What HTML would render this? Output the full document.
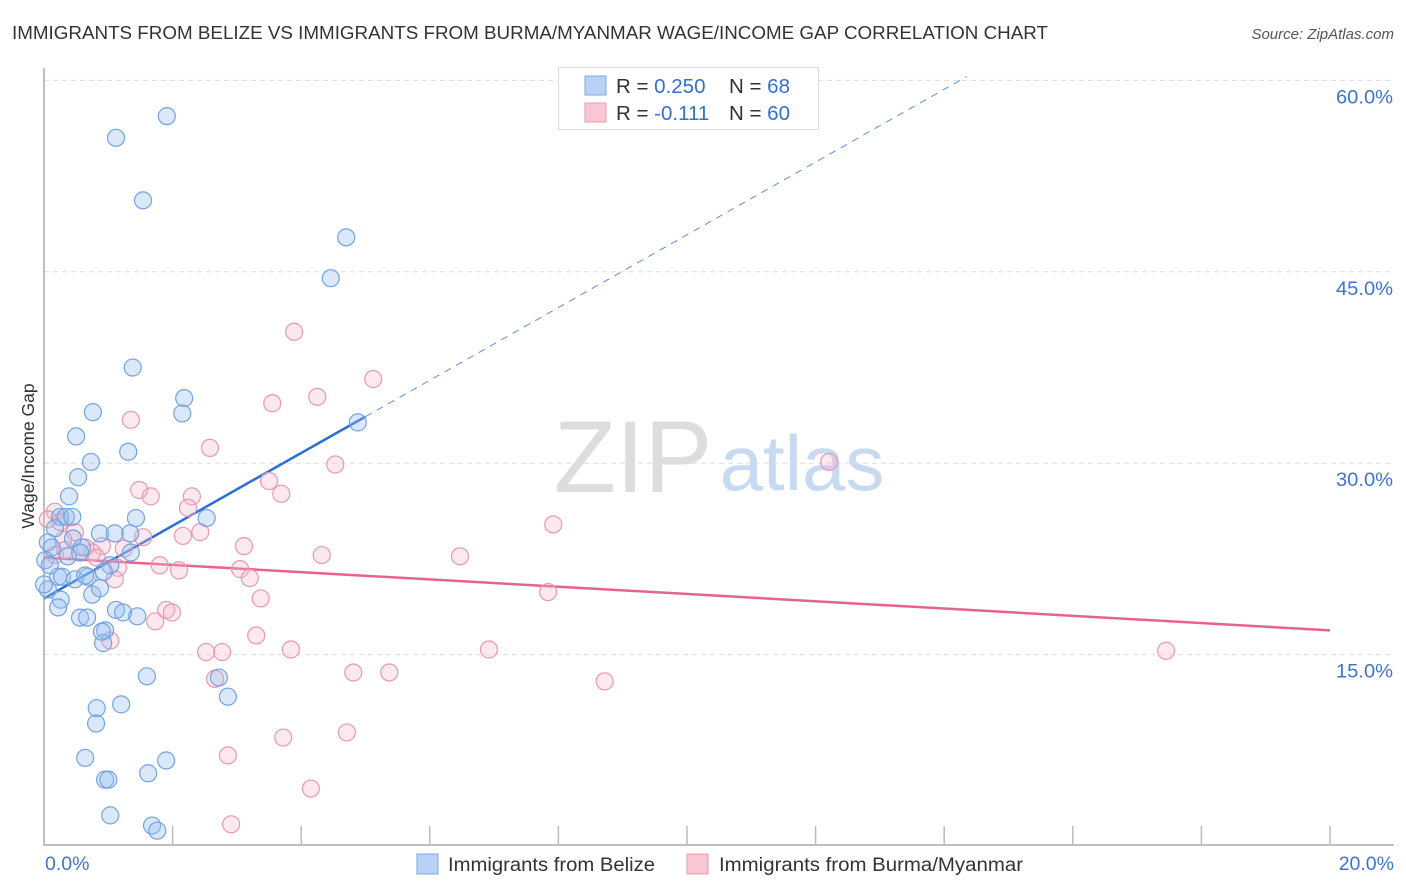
<!DOCTYPE html>
<html><head><meta charset="utf-8">
<style>
body{margin:0;background:#fff;font-family:"Liberation Sans",sans-serif;}
#wrap{position:relative;width:1406px;height:892px;overflow:hidden;}
svg text{font-family:"Liberation Sans",sans-serif;}
</style></head>
<body>
<div id="wrap">
<svg id="chart" width="1406" height="892">
<text x="12" y="39" font-size="18" fill="#333" textLength="1036" lengthAdjust="spacingAndGlyphs">IMMIGRANTS FROM BELIZE VS IMMIGRANTS FROM BURMA/MYANMAR WAGE/INCOME GAP CORRELATION CHART</text>
<text x="1394" y="39" font-size="15" fill="#555" font-style="italic" text-anchor="end">Source: ZipAtlas.com</text>
<text x="633" y="492" font-size="102" fill="#ddd" font-family="Liberation Serif" text-anchor="middle">ZIP</text>
<text x="802" y="490" font-size="78" fill="#c8daf2" text-anchor="middle">atlas</text>
<text transform="translate(34,456) rotate(-90)" font-size="17.5" fill="#333" text-anchor="middle">Wage/Income Gap</text>
<g id="grid"></g><g id="axes"></g><g id="trend"></g><g id="pts"></g>
<g>
<rect x="558.5" y="67.5" width="260" height="62" fill="#fff" stroke="#ddd"/>
<rect x="585" y="76" width="21" height="19" fill="#b8d2f5" stroke="#7fa8e4"/>
<rect x="585" y="103" width="21" height="19" fill="#f9c6d4" stroke="#ee9ab2"/>
<text x="616" y="93" font-size="20.5" fill="#333">R = <tspan fill="#3570d0">0.250</tspan></text>
<text x="729" y="93" font-size="20.5" fill="#333">N = <tspan fill="#3570d0">68</tspan></text>
<text x="616" y="120" font-size="20.5" fill="#333">R = <tspan fill="#3570d0"> -0.111</tspan></text>
<text x="729" y="120" font-size="20.5" fill="#333">N = <tspan fill="#3570d0">60</tspan></text>
</g>
<g>
<rect x="417" y="854" width="21" height="20" fill="#b8d2f5" stroke="#7fa8e4"/>
<text x="448" y="871" font-size="19" fill="#333" textLength="207" lengthAdjust="spacingAndGlyphs">Immigrants from Belize</text>
<rect x="687" y="854" width="21" height="20" fill="#f9c6d4" stroke="#ee9ab2"/>
<text x="719" y="871" font-size="19" fill="#333" textLength="304" lengthAdjust="spacingAndGlyphs">Immigrants from Burma/Myanmar</text>
</g>
</svg>
</div>
<script>
const yTicks=[15,30,45,60];
const yTickLabels=["15.0%","30.0%","45.0%","60.0%"];
const xTicks=[0,2,4,6,8,10,12,14,16,18,20];
const xEndLabels=["0.0%","20.0%"];
const belizeX=[1.91,1.12,1.54,4.70,4.46,1.38,2.18,2.15,0.76,0.50,1.31,0.73,0.53,4.88,0.39,1.43,2.53,0.25,0.34,0.44,0.17,0.06,0.12,0.45,0.87,1.34,1.10,0.59,0.56,0.37,1.35,0.22,0.28,0.68,0.48,0.64,1.03,0.93,0.06,0.26,0.22,0.75,0.87,0.56,0.67,1.12,1.23,1.45,0.95,0.92,0.90,1.60,2.72,2.86,1.20,0.82,0.81,0.64,0.95,1.00,1.62,1.90,1.03,1.68,1.76,0.02,0.09,0.00];
const belizeY=[57.2,55.5,50.6,47.7,44.5,37.5,35.1,33.9,34.0,32.1,30.9,30.1,28.9,33.2,27.4,25.7,25.7,25.8,25.8,25.8,24.9,23.8,23.4,24.1,24.5,24.5,24.5,23.4,23.0,22.7,23.0,21.1,21.1,21.1,20.9,21.2,22.0,21.5,20.1,19.3,18.7,19.7,20.2,17.9,17.9,18.5,18.3,18.0,16.9,15.9,16.8,13.3,13.2,11.7,11.1,10.8,9.6,6.9,5.2,5.2,5.7,6.7,2.4,1.6,1.2,22.4,22.0,20.5];
const burmaX=[3.89,5.12,4.25,3.55,1.35,2.58,4.53,12.21,1.48,1.66,2.30,3.50,3.69,2.24,7.92,0.17,0.25,0.48,0.30,0.90,2.43,2.16,3.11,1.54,1.24,4.32,6.47,0.75,0.82,1.80,2.10,3.05,3.20,1.15,1.10,7.84,3.37,1.90,1.99,1.73,1.03,3.30,2.77,2.52,3.84,6.92,2.66,4.81,5.37,8.72,17.45,3.72,4.71,2.86,4.15,2.91,0.17,0.33,0.06,0.64];
const burmaY=[40.3,36.6,35.2,34.7,33.4,31.2,29.9,30.1,27.9,27.4,27.4,28.6,27.6,26.5,25.2,26.2,25.4,24.6,24.0,23.5,24.6,24.3,23.5,24.2,23.3,22.8,22.7,23.0,22.6,22.0,21.6,21.7,21.0,21.8,20.9,19.9,19.4,18.5,18.3,17.6,16.1,16.5,15.2,15.2,15.4,15.4,13.1,13.6,13.6,12.9,15.3,8.5,8.9,7.1,4.5,1.7,22.8,23.2,25.6,23.4];
const belizeTrend=[19.4,2.85];   // intercept, slope
const burmaTrend=[22.6,-0.285];

const X0=44,X1=1330,Y0=846,PXPER=191.4/15;
const sx=v=>X0+(X1-X0)*v/20;
const sy=v=>Y0-v*PXPER;
const NS="http://www.w3.org/2000/svg";
function mk(tag,attrs,parent){const e=document.createElementNS(NS,tag);for(const k in attrs)e.setAttribute(k,attrs[k]);parent.appendChild(e);return e;}
const grid=document.getElementById('grid'),axes=document.getElementById('axes'),trend=document.getElementById('trend'),pts=document.getElementById('pts');
yTicks.forEach((t,i)=>{
  const l=mk('line',{x1:X0,x2:1394,y1:sy(t),y2:sy(t),stroke:'#ddd','stroke-dasharray':'5,4'},grid);
  
  
  const tx=mk('text',{x:1393,y:sy(t)+23,'font-size':19.5,fill:'#3d74d0','text-anchor':'end',textLength:57,lengthAdjust:'spacingAndGlyphs'},axes);
  tx.textContent=yTickLabels[i];
  
  
});
const ax=mk('path',{d:`M${X0},68 V${Y0-1} H1394`,fill:'none',stroke:'#aaa','stroke-width':1.5},axes);


xTicks.forEach(t=>{
  if(t===0)return;
  const l=mk('line',{x1:sx(t),x2:sx(t),y1:826,y2:845,stroke:'#bbb','stroke-width':1.5},axes);
  
  
});
[[0,'start'],[20,'end']].forEach(([v,a],i)=>{
  const tx=mk('text',{x:i?1394:45,y:870,'font-size':19.5,fill:'#3d74d0','text-anchor':a},axes);
  tx.textContent=xEndLabels[i];
  
  
});
function dot(x,y,fill,stroke,name){
  const c=mk('circle',{cx:sx(x),cy:sy(y),r:8.5,fill:fill,stroke:stroke,'stroke-width':1.2},pts);
  
  
}
burmaX.forEach((x,i)=>dot(x,burmaY[i],'rgba(246,182,202,0.3)','#ea98b2','burma-point'));
belizeX.forEach((x,i)=>dot(x,belizeY[i],'rgba(150,190,240,0.35)','#74a3e2','belize-point'));
const f1=x=>belizeTrend[0]+belizeTrend[1]*x;
let t1=mk('line',{x1:sx(0),y1:sy(f1(0)),x2:sx(5),y2:sy(f1(5)),stroke:'#2a6fd6','stroke-width':2.5},trend);


const xe=(60.3-belizeTrend[0])/belizeTrend[1];
let t2=mk('line',{x1:sx(5),y1:sy(f1(5)),x2:sx(xe),y2:sy(f1(xe)),stroke:'#5a8fe0','stroke-width':1,'stroke-dasharray':'7,6'},trend);


const f2=x=>burmaTrend[0]+burmaTrend[1]*x;
let t3=mk('line',{x1:sx(0),y1:sy(f2(0)),x2:sx(20),y2:sy(f2(20)),stroke:'#e5648e','stroke-width':2.5},trend);


</script>
</body></html>
